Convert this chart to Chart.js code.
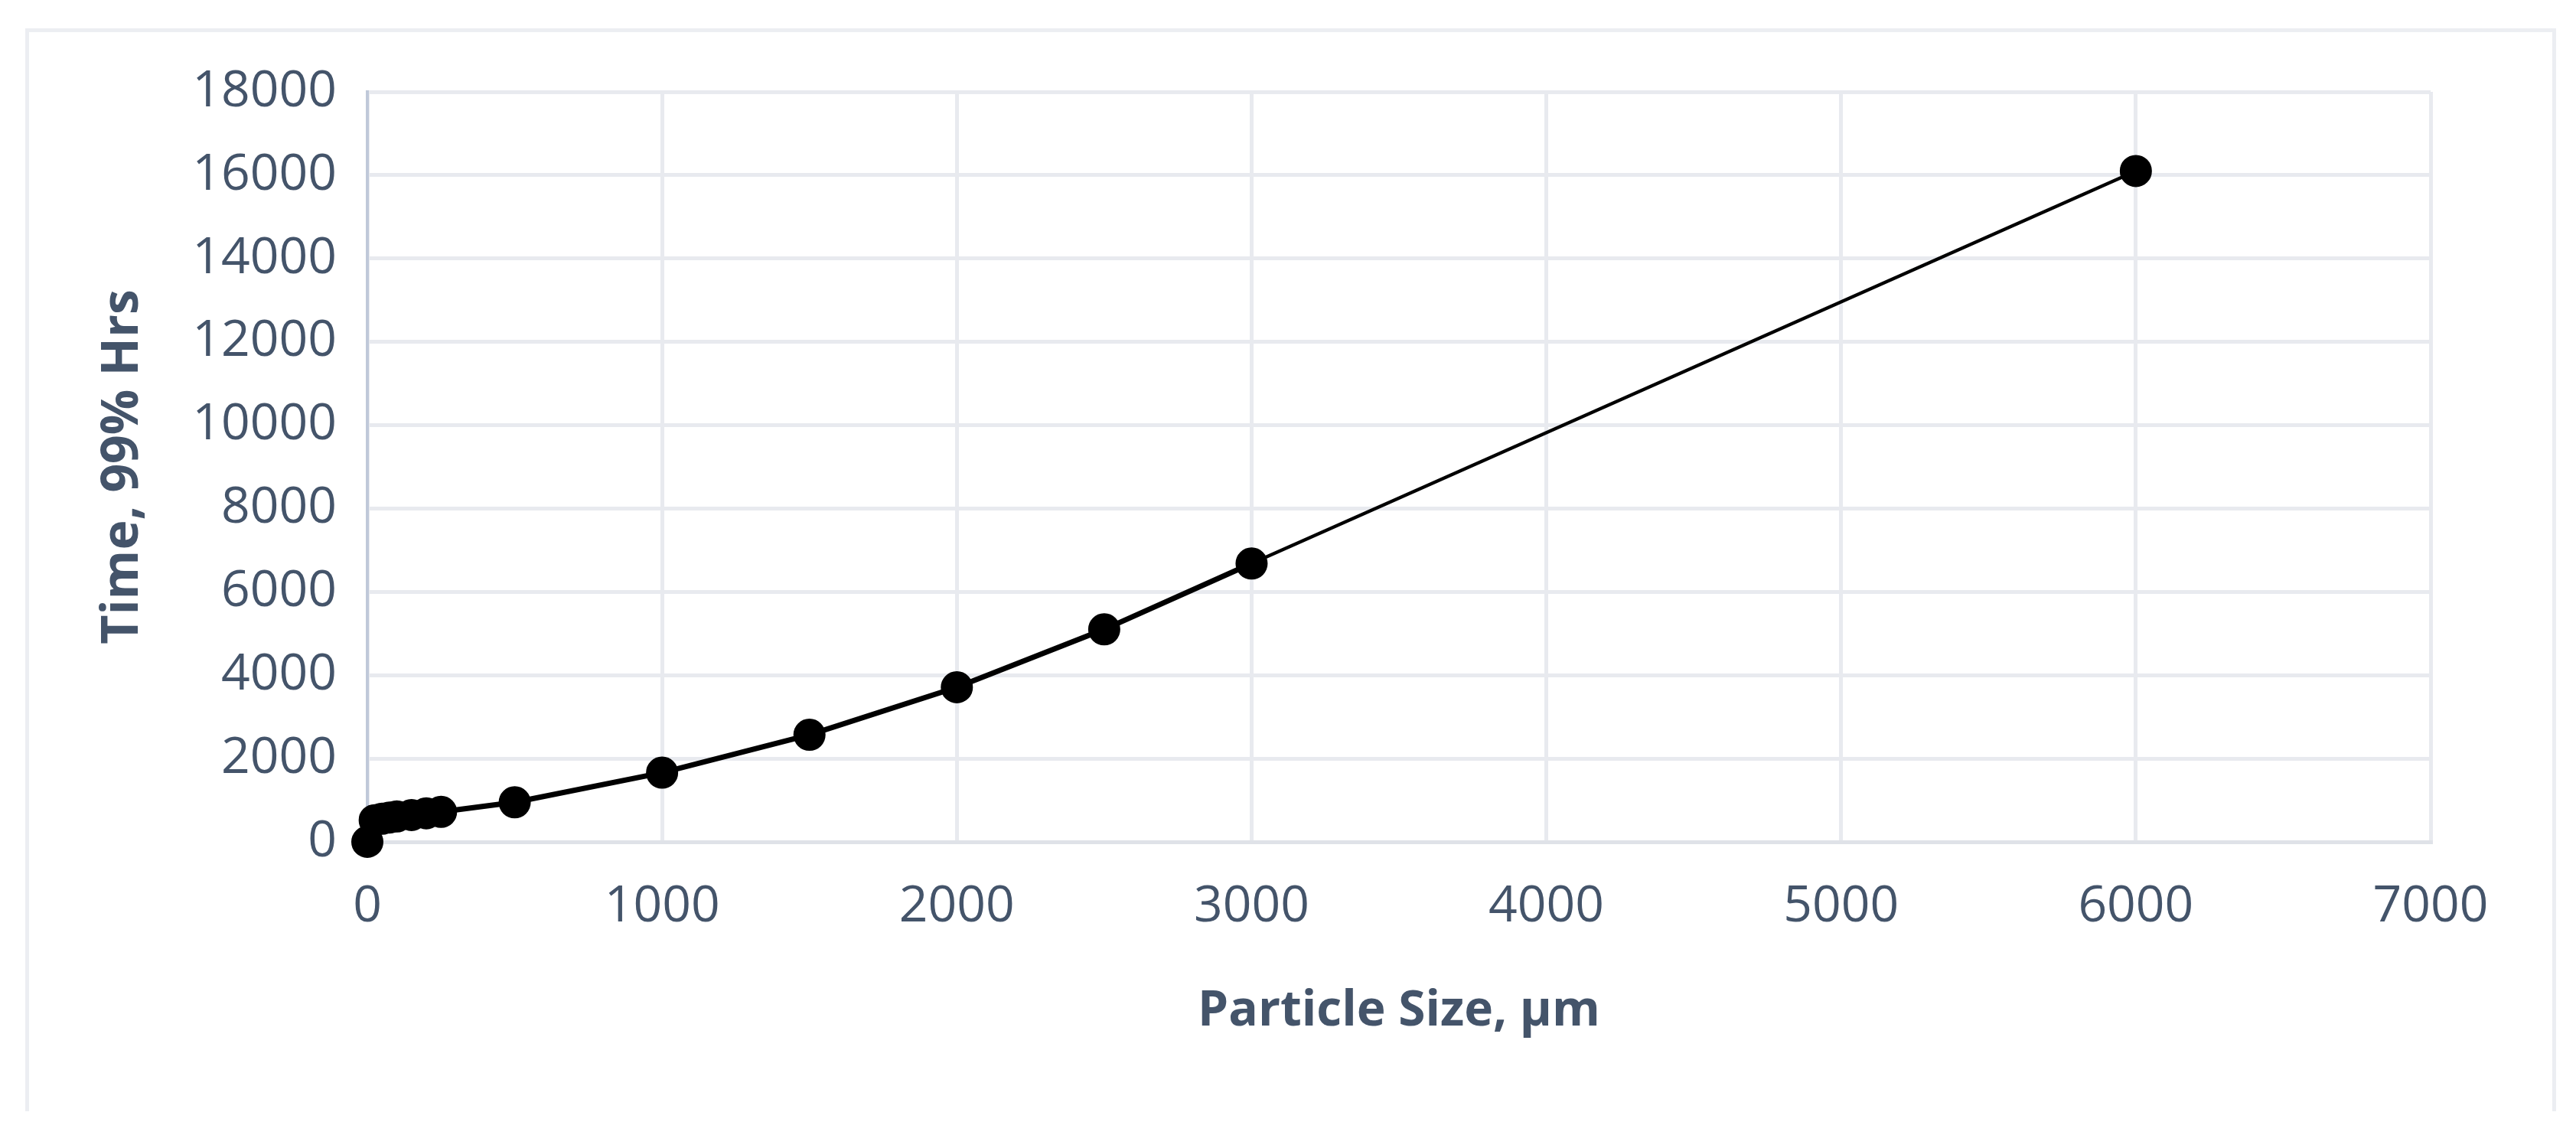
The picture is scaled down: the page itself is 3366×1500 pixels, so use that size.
<!DOCTYPE html>
<html lang="en">
<head>
    <meta charset="UTF-8">
    <title>Time vs Particle Size</title>
    <script src="https://cdn.jsdelivr.net/npm/chart.js@4.4.1/dist/chart.umd.min.js"></script>
    <style>
        body {
            margin: 0;
            background-color: #ffffff;
        }

        .wrap {
            position: relative;
            width: 3366px;
            height: 1500px;
        }

        /* light frame round the chart, open at the bottom */
        .frame {
            position: absolute;
            left: 33px;
            top: 37px;
            width: 3297px;
            height: 1410px;
            border: 5px solid #eceef2;
            border-bottom: none;
            pointer-events: none;
        }
    </style>
</head>
<body>
    <div class="wrap">
        <canvas id="sizeChart" width="3366" height="1500"></canvas>
        <div class="frame"></div>
    </div>

    <script>
        // values
        const particleSize = [0, 25, 50, 75, 100, 150, 200, 250, 500, 1000, 1500, 2000, 2500, 3000, 6000];
        const time99 = [0, 520, 555, 585, 610, 645, 685, 720, 950, 1660, 2570, 3710, 5100, 6680, 16100];

        const xTicks = [0, 1000, 2000, 3000, 4000, 5000, 6000, 7000];
        const yTicks = [0, 2000, 4000, 6000, 8000, 10000, 12000, 14000, 16000, 18000];

        const textColor = '#44546a';
        const fontFamily = '"Open Sans", "Noto Sans", sans-serif';

        const points = particleSize.map((s, i) => ({ x: s, y: time99[i] }));

        const ctx = document.getElementById('sizeChart').getContext('2d');
        const sizeChart = new Chart(ctx, {
            type: 'scatter',
            data: {
                datasets: [{
                    label: 'Time, 99% Hrs',
                    data: points,
                    showLine: true,
                    clip: false,
                    borderColor: '#000000',
                    borderWidth: 6,
                    // the long last segment is drawn thinner in the original
                    segment: {
                        borderWidth: (c) => (c.p1.parsed.x > 3000 ? 4.5 : 7)
                    },
                    backgroundColor: '#000000',
                    pointBackgroundColor: '#000000',
                    pointBorderColor: '#000000',
                    pointRadius: 20,
                    pointBorderWidth: 2,
                    pointHoverRadius: 20
                }]
            },
            options: {
                responsive: false,
                animation: false,
                layout: {
                    padding: { left: 120, top: 120, right: 190, bottom: 140 }
                },
                plugins: {
                    legend: { display: false },
                    tooltip: { enabled: false }
                },
                scales: {
                    x: {
                        type: 'linear',
                        min: xTicks[0],
                        max: xTicks[xTicks.length - 1],
                        afterBuildTicks: (scale) => {
                            scale.ticks = xTicks.map(v => ({ value: v }));
                        },
                        afterFit: (scale) => {
                            scale.height = 260;
                        },
                        grid: {
                            color: '#e8eaef',
                            lineWidth: 5,
                            drawTicks: false
                        },
                        border: {
                            color: '#dfe2e8',
                            width: 5
                        },
                        ticks: {
                            padding: 46,
                            color: textColor,
                            font: { family: fontFamily, size: 66 },
                            maxRotation: 0,
                            callback: (v) => String(v)
                        },
                        title: {
                            display: true,
                            text: 'Particle Size, µm',
                            color: textColor,
                            font: { family: fontFamily, size: 64, weight: 'bold' },
                            padding: { top: 0, bottom: 0 }
                        }
                    },
                    y: {
                        type: 'linear',
                        min: yTicks[0],
                        max: yTicks[yTicks.length - 1],
                        afterBuildTicks: (scale) => {
                            scale.ticks = yTicks.map(v => ({ value: v }));
                        },
                        afterFit: (scale) => {
                            scale.width = 360;
                        },
                        grid: {
                            color: '#e8eaef',
                            lineWidth: 5,
                            drawTicks: false
                        },
                        border: {
                            color: '#c0c9d9',
                            width: 4
                        },
                        ticks: {
                            padding: 40,
                            color: textColor,
                            font: { family: fontFamily, size: 66 },
                            callback: (v) => String(v)
                        },
                        title: {
                            display: true,
                            text: 'Time, 99% Hrs',
                            color: textColor,
                            font: { family: fontFamily, size: 66, weight: 'bold' },
                            padding: { top: 2, bottom: 0 }
                        }
                    }
                }
            }
        });
    </script>
</body>
</html>
